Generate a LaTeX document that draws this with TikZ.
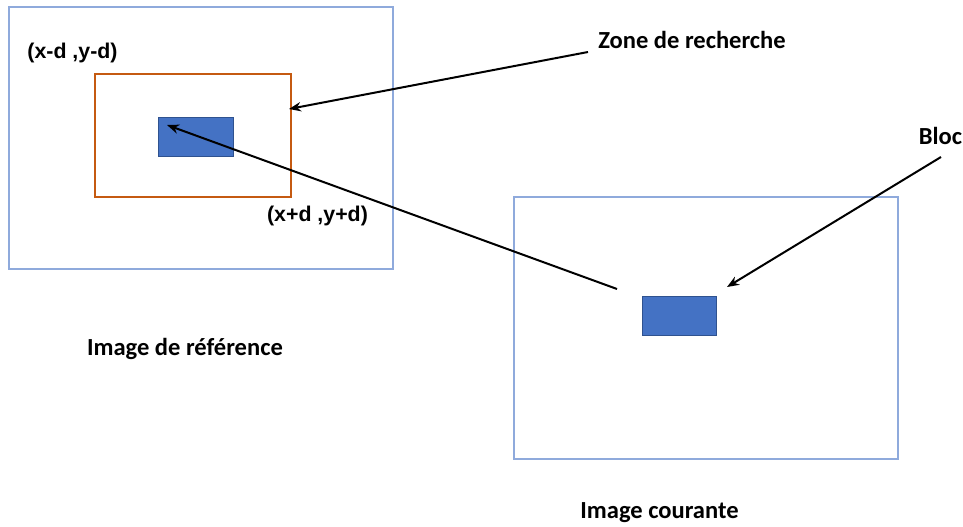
\documentclass[tikz,border=0pt]{standalone}
\usepackage{fontspec}
\setmainfont{Carlito}
\newfontfamily\coordfont{Liberation Sans}
\usepackage{tikz}
\usetikzlibrary{arrows.meta, positioning}
\definecolor{framegrey}{RGB}{143, 170, 220}
\definecolor{zoneorange}{RGB}{197, 90, 17}
\definecolor{blocblue}{RGB}{68, 114, 196}
\definecolor{blocedge}{RGB}{47, 82, 143}

\begin{document}
\begin{tikzpicture}[
    x=0.75pt, y=-0.75pt,
    frame/.style={rectangle, draw=framegrey, line width=1.3pt, minimum width=288pt, minimum height=196.5pt, inner sep=0pt, outer sep=0pt},
    zonebox/.style={rectangle, draw=zoneorange, line width=0.8pt, minimum width=147pt, minimum height=92.25pt, inner sep=0pt, outer sep=0pt},
    bloc/.style={rectangle, draw=blocedge, fill=blocblue, line width=0.6pt, minimum width=56pt, minimum height=29.25pt, inner sep=0pt, outer sep=0pt},
    lbl/.style={font=\bfseries\fontsize{18.4}{22}\selectfont, inner sep=0pt},
    coordlbl/.style={font=\coordfont\bfseries\fontsize{16}{19}\selectfont, inner sep=0pt},
    arrow/.style={-{Stealth[length=9pt, width=7pt]}, line width=1.5pt, black}
]
\useasboundingbox (0,0) rectangle (963,527);

% reference image
\node[frame] (refimg) at (201,138) {};
\node[zonebox] (zone) at (193,135.5) {};
\node[bloc] (refbloc) at (196,136.5) {};
\node[coordlbl] (topleft) at (72.5,53) {(x-d ,y-d)};
\node[coordlbl] (botright) at (317.5,216) {(x+d ,y+d)};
\node[lbl] (reflbl) at (185,349) {Image de référence};

% current image
\node[frame] (curimg) at (706,328) {};
\node[bloc] (curbloc) at (679.5,315.5) {};
\node[lbl] (curlbl) at (659.5,513) {Image courante};

% annotations
\node[lbl] (zonelbl) at (692,40) {Zone de recherche};
\node[lbl] (bloclbl) at (940.5,136) {Bloc};

\coordinate (zonetip) at (289,109);
\coordinate (zonestart) at (588,52);
\coordinate (searchstart) at (617,289);
\coordinate (searchtip) at (167,125);
\coordinate (blocstart) at (941,157);
\coordinate (bloctip) at (727,287);

\draw[arrow] (zonestart) -- (zonetip);
\draw[arrow] (searchstart) -- (searchtip);
\draw[arrow] (blocstart) -- (bloctip);

\end{tikzpicture}
\end{document}
